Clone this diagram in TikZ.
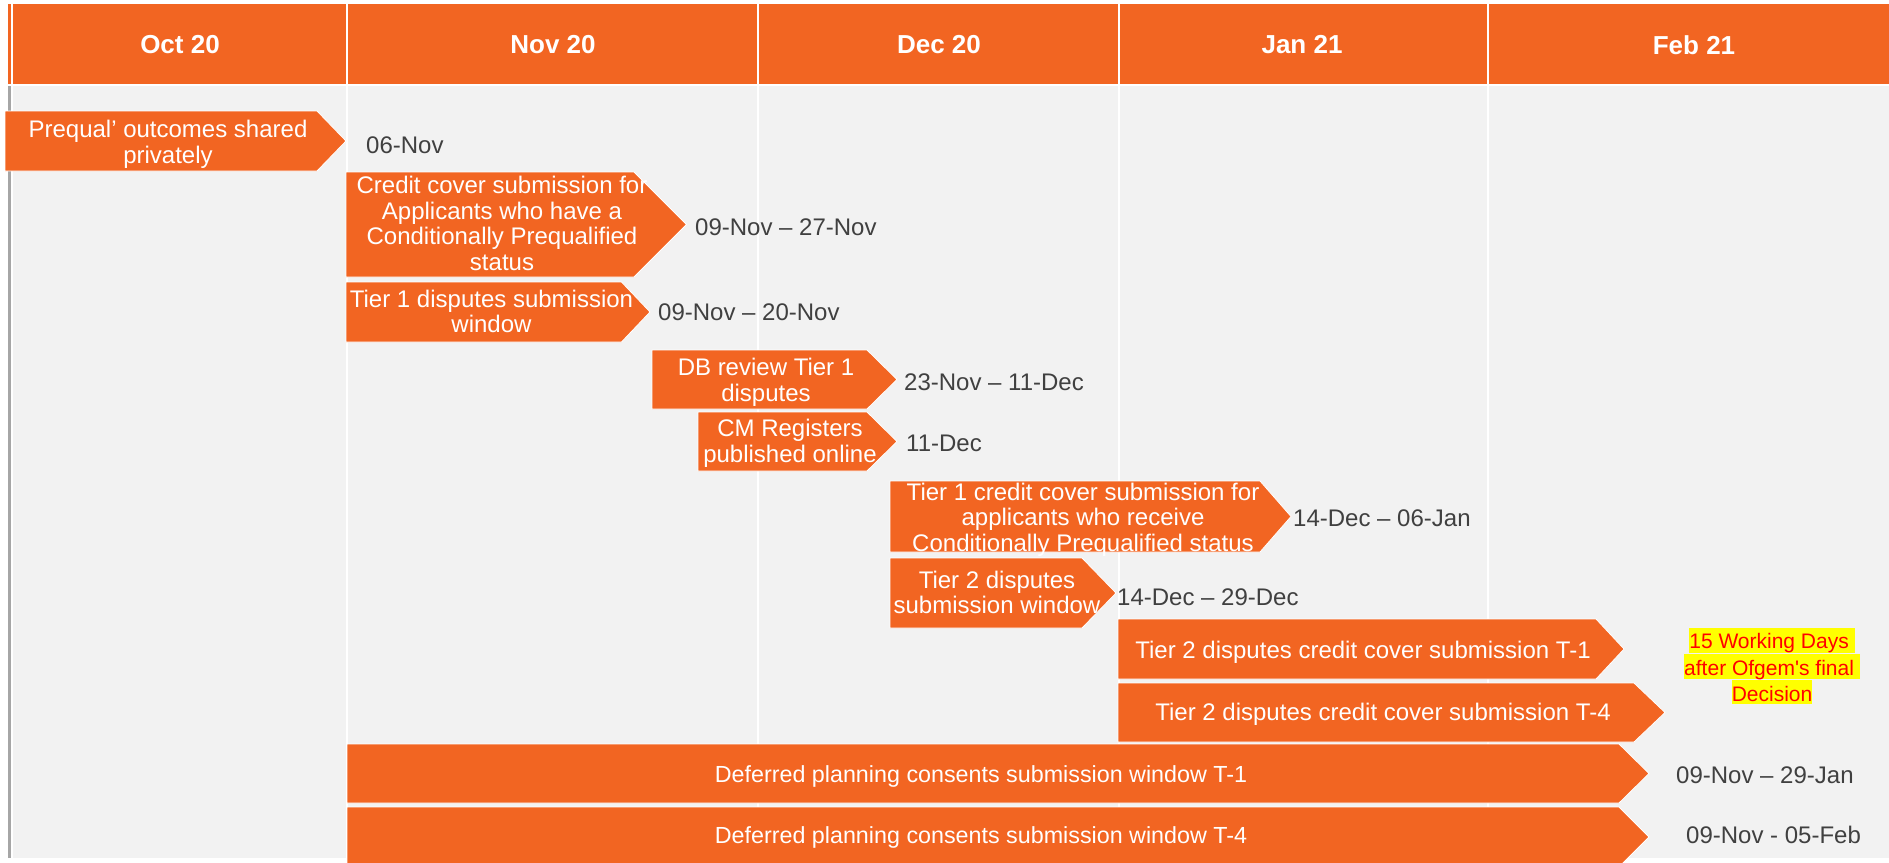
\documentclass[tikz,border=0pt]{standalone}
\usepackage{fontspec}
\setmainfont{Liberation Sans}
\definecolor{orng}{HTML}{F26522}
\definecolor{bodyg}{HTML}{F2F2F2}
\definecolor{lineg}{HTML}{A6A6A6}
\definecolor{datec}{HTML}{404040}
\definecolor{hlred}{HTML}{FF0000}
\definecolor{hlyel}{HTML}{FFFF00}
\tikzset{
  barshape/.style={fill=orng, draw=white, line width=0.8pt},
  bartext/.style={text=white, font=\fontsize{24}{25.7}\selectfont, align=center, inner sep=0pt},
  widetext/.style={bartext, font=\fontsize{23.3}{25.7}\selectfont},
  datetext/.style={text=datec, font=\fontsize{24}{25.7}\selectfont, anchor=west, inner sep=0pt},
  headtext/.style={text=white, font=\bfseries\fontsize{26}{28}\selectfont, inner sep=0pt},
  notetext/.style={text=hlred, font=\fontsize{21}{25}\selectfont, align=center, inner sep=0pt},
  divider/.style={draw=white, line width=2pt},
}
\newcommand\chev[5]{\path[barshape] (#1,#2) -- (#3,#2) -- (#5,{(#2+#4)/2}) -- (#3,#4) -- (#1,#4) -- cycle;}
\newcommand\hl[1]{{\setlength\fboxsep{0pt}\colorbox{hlyel}{\rule[-3pt]{0pt}{24pt}#1}}}
\begin{document}
\begin{tikzpicture}[x=1pt,y=-1pt]
\useasboundingbox (0,0) rectangle (1889,862);
\clip (0,0) rectangle (1889,862);
% frame
\fill[orng] (8,4) rectangle (10.7,84);
\fill[lineg] (8,86) rectangle (10.7,858);
\fill[orng] (13.4,4) rectangle (1889,84);
\fill[bodyg] (13.4,86) rectangle (1889,858);
\foreach \x in {347,758,1119,1488} \draw[divider] (\x,4) -- (\x,858);
% header
\node[headtext] (oct) at (180,45) {Oct 20};
\node[headtext] (nov) at (553,45) {Nov 20};
\node[headtext] (dec) at (939,45) {Dec 20};
\node[headtext] (jan) at (1302,45) {Jan 21};
\node[headtext] (feb) at (1694,45) {Feb 21};
% bars
\chev{5}{111}{317}{171}{346}
\node[bartext] (b1) at (168,144) {Prequal’ outcomes shared\\privately};
\node[datetext] (d1) at (366,145) {06-Nov};
\chev{346}{172}{634}{277}{686.5}
\node[bartext] (b2) at (502,223.5) {Credit cover submission for\\Applicants who have a\\Conditionally Prequalified\\status};
\node[datetext] (d2) at (695,227) {09-Nov – 27-Nov};
\chev{346}{282}{621.5}{342}{650}
\node[bartext] (b3) at (491.5,311.5) {Tier 1 disputes submission\\window};
\node[datetext] (d3) at (658,312) {09-Nov – 20-Nov};
\chev{652}{350}{867}{409}{897}
\node[bartext] (b4) at (766,382.5) {DB review Tier 1\\disputes};
\node[datetext] (d4) at (904,382) {23-Nov – 11-Dec};
\chev{698}{412}{867}{471}{897}
\node[bartext] (b5) at (790,443) {CM Registers\\published online};
\node[datetext] (d5) at (906,443) {11-Dec};
\chev{890}{481}{1260}{552}{1291}
\node[bartext] (b6) at (1083,519.5) {Tier 1 credit cover submission for\\applicants who receive\\Conditionally Prequalified status};
\node[datetext] (d6) at (1293,518) {14-Dec – 06-Jan};
\chev{890}{558}{1082}{628}{1116}
\node[bartext] (b7) at (997,592.5) {Tier 2 disputes\\submission window};
\node[datetext] (d7) at (1117,597) {14-Dec – 29-Dec};
\chev{1118}{619}{1596}{679}{1624}
\node[bartext] (b8) at (1363,652) {Tier 2 disputes credit cover submission T-1};
\chev{1118}{683}{1634}{742}{1665}
\node[bartext] (b9) at (1383,714) {Tier 2 disputes credit cover submission T-4};
\node[notetext] (note) at (1772,666) {\hl{15 Working Days\ }\\\hl{after Ofgem\textquotesingle s final\ }\\\hl{Decision}};
\chev{347}{744}{1619}{803}{1649}
\node[widetext] (b10) at (981,776) {Deferred planning consents submission window T-1};
\node[datetext] (d10) at (1676,775) {09-Nov – 29-Jan};
\chev{347}{807}{1619}{867}{1649}
\node[widetext] (b11) at (981,837) {Deferred planning consents submission window T-4};
\node[datetext] (d11) at (1686,835) {09-Nov - 05-Feb};
\end{tikzpicture}
\end{document}
